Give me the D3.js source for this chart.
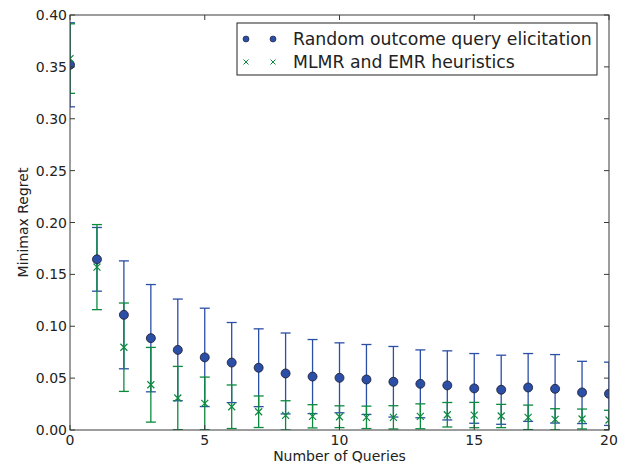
<!DOCTYPE html>
<html>
<head>
  <script src="https://d3js.org/d3.v7.min.js"></script>
  <style>
    body { margin: 0; background: #fff; }
    svg { font-family: "DejaVu Sans", sans-serif; }
  </style>
</head>
<body>
  <svg id="chart"></svg>
  <script>
    // number of queries
    var queries = [0, 1, 2, 3, 4, 5, 6, 7, 8, 9, 10, 11, 12, 13, 14, 15, 16, 17, 18, 19, 20];

    // random outcome query elicitation: mean and error
    var randomMean = [0.352, 0.1645, 0.111, 0.0885, 0.0772, 0.070, 0.065, 0.060, 0.0545, 0.0515,
      0.0503, 0.0487, 0.0465, 0.0445, 0.043, 0.0401, 0.0388, 0.041, 0.0397, 0.0362, 0.0349];
    var randomErr = [0.0405, 0.0307, 0.052, 0.0517, 0.049, 0.0474, 0.0386, 0.0375, 0.039, 0.0357,
      0.0337, 0.0337, 0.034, 0.0327, 0.0333, 0.0336, 0.0333, 0.0327, 0.033, 0.030, 0.0305];

    // MLMR and EMR heuristics: mean and error
    var heurMean = [0.358, 0.157, 0.0798, 0.0436, 0.0308, 0.0256, 0.0224, 0.0176, 0.0141, 0.0132,
      0.0128, 0.0122, 0.0122, 0.0132, 0.0147, 0.0144, 0.0135, 0.0122, 0.0103, 0.0106, 0.0096];
    var heurErr = [0.0335, 0.041, 0.0426, 0.036, 0.0305, 0.0254, 0.021, 0.0152, 0.0141, 0.0112,
      0.0105, 0.0108, 0.0112, 0.012, 0.0118, 0.0122, 0.0112, 0.0118, 0.0102, 0.0096, 0.0094];

    var xTicks = [0, 5, 10, 15, 20];
    var yTicks = [0, 0.05, 0.10, 0.15, 0.20, 0.25, 0.30, 0.35, 0.40];

    var width = 628, height = 466;
    var margin = { top: 15, right: 19, bottom: 36, left: 70 };
    var innerWidth = width - margin.left - margin.right;
    var innerHeight = height - margin.top - margin.bottom;

    var blue = "#2b4ea6";
    var green = "#0b8a3e";

    var svg = d3.select("#chart").attr("width", width).attr("height", height);

    var x = d3.scaleLinear().domain([0, 20]).range([0, innerWidth]);
    var y = d3.scaleLinear().domain([0, 0.40]).range([innerHeight, 0]);

    var chart = svg.append("g")
      .attr("transform", "translate(" + margin.left + "," + margin.top + ")");

    chart.append("clipPath").attr("id", "clip")
      .append("rect").attr("width", innerWidth).attr("height", innerHeight);

    var plot = chart.append("g").attr("clip-path", "url(#clip)");

    function errorBars(means, errs, color) {
      var g = plot.append("g").attr("stroke", color).attr("stroke-width", 1.3);
      queries.forEach(function(q, i) {
        var lo = means[i] - errs[i], hi = means[i] + errs[i];
        g.append("line").attr("x1", x(q)).attr("x2", x(q)).attr("y1", y(lo)).attr("y2", y(hi));
        g.append("line").attr("x1", x(q) - 5).attr("x2", x(q) + 5).attr("y1", y(lo)).attr("y2", y(lo));
        g.append("line").attr("x1", x(q) - 5).attr("x2", x(q) + 5).attr("y1", y(hi)).attr("y2", y(hi));
      });
    }

    errorBars(randomMean, randomErr, blue);
    errorBars(heurMean, heurErr, green);

    plot.selectAll(".dot")
      .data(randomMean)
      .enter()
      .append("circle")
      .attr("class", "dot")
      .attr("cx", (d, i) => x(queries[i]))
      .attr("cy", d => y(d))
      .attr("r", 4.5)
      .attr("fill", blue)
      .attr("stroke", "#1a1a2a")
      .attr("stroke-width", 0.8);

    function cross(g, cx, cy, s, w) {
      g.append("path")
        .attr("d", "M" + (cx - s) + "," + (cy - s) + "L" + (cx + s) + "," + (cy + s) +
          "M" + (cx - s) + "," + (cy + s) + "L" + (cx + s) + "," + (cy - s))
        .attr("stroke", green)
        .attr("stroke-width", w)
        .attr("fill", "none");
    }

    var crosses = plot.append("g");
    heurMean.forEach(function(d, i) {
      cross(crosses, x(queries[i]), y(d), 3.5, 1.2);
    });

    // frame
    chart.append("rect")
      .attr("width", innerWidth).attr("height", innerHeight)
      .attr("fill", "none").attr("stroke", "#3a3a3a").attr("stroke-width", 1);

    // inward ticks on all four sides
    var ticks = chart.append("g").attr("stroke", "#3a3a3a").attr("stroke-width", 1);
    xTicks.forEach(function(t) {
      ticks.append("line").attr("x1", x(t)).attr("x2", x(t)).attr("y1", innerHeight).attr("y2", innerHeight - 5);
      ticks.append("line").attr("x1", x(t)).attr("x2", x(t)).attr("y1", 0).attr("y2", 5);
    });
    yTicks.forEach(function(t) {
      ticks.append("line").attr("x1", 0).attr("x2", 5).attr("y1", y(t)).attr("y2", y(t));
      ticks.append("line").attr("x1", innerWidth).attr("x2", innerWidth - 5).attr("y1", y(t)).attr("y2", y(t));
    });

    chart.selectAll(".xlab")
      .data(xTicks)
      .enter()
      .append("text")
      .attr("class", "xlab")
      .attr("x", d => x(d))
      .attr("y", innerHeight + 15)
      .attr("text-anchor", "middle")
      .style("font-size", "14px")
      .attr("fill", "#222")
      .text(d => d);

    chart.selectAll(".ylab")
      .data(yTicks)
      .enter()
      .append("text")
      .attr("class", "ylab")
      .attr("x", -3)
      .attr("y", d => y(d) + 5)
      .attr("text-anchor", "end")
      .style("font-size", "14px")
      .attr("fill", "#222")
      .text(d => d3.format(".2f")(d));

    chart.append("text")
      .attr("x", innerWidth / 2)
      .attr("y", innerHeight + 31)
      .attr("text-anchor", "middle")
      .style("font-size", "14px")
      .attr("fill", "#222")
      .text("Number of Queries");

    chart.append("text")
      .attr("transform", "translate(" + (-42) + "," + (innerHeight / 2) + ") rotate(-90)")
      .attr("text-anchor", "middle")
      .style("font-size", "14px")
      .attr("fill", "#222")
      .text("Minimax Regret");

    // legend
    var legend = svg.append("g").attr("transform", "translate(237,23)");
    legend.append("rect")
      .attr("width", 360).attr("height", 52)
      .attr("fill", "#fff").attr("stroke", "#222").attr("stroke-width", 1);

    [9, 36].forEach(function(lx) {
      legend.append("circle").attr("cx", lx).attr("cy", 16).attr("r", 3)
        .attr("fill", blue).attr("stroke", "#1a1a2a").attr("stroke-width", 0.6);
      cross(legend, lx, 39, 2.5, 1);
    });

    legend.append("text").attr("x", 56).attr("y", 22)
      .style("font-size", "17.3px").attr("fill", "#222")
      .text("Random outcome query elicitation");
    legend.append("text").attr("x", 56).attr("y", 45)
      .style("font-size", "17.3px").attr("fill", "#222")
      .text("MLMR and EMR heuristics");
  </script>
</body>
</html>
